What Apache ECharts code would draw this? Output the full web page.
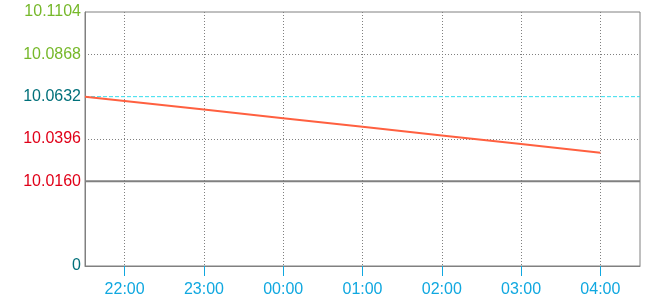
<!DOCTYPE html>
<html>
<head>
<meta charset="utf-8">
<script src="https://cdn.jsdelivr.net/npm/echarts@6/dist/echarts.min.js"></script>
<style>html,body{margin:0;padding:0;background:#fff}#c{width:660px;height:300px}</style>
</head>
<body>
<div id="c"></div>
<script>
// Data
var times = ['21:30', '22:00', '23:00', '00:00', '01:00', '02:00', '03:00', '04:00'];
var values = [10.0632, 10.0608, 10.0560, 10.0512, 10.0464, 10.0416, 10.0368, 10.0320];
var xTickLabels = ['22:00', '23:00', '00:00', '01:00', '02:00', '03:00', '04:00'];
var yTickLabels = ['0', '', '10.0160', '10.0396', '10.0632', '10.0868', '10.1104'];
var refValue = 10.0632;   // dashed cyan reference
var baseValue = 10.0160;  // solid gray base line
var yMin = 9.9688, yMax = 10.1104, yStep = 0.0236;
var xStart = '21:30', xEnd = '04:30';

function toHours(s) {
  var p = s.split(':'); var h = +p[0] + (+p[1]) / 60;
  if (h < 12) h += 24;
  return h;
}
var xMin = toHours(xStart), xMax = toHours(xEnd);
var xTickVals = xTickLabels.map(toHours);
var seriesData = times.map(function (t, i) { return [toHours(t), values[i]]; });

var font = "'Liberation Sans', Arial, sans-serif";
var chart = echarts.init(document.getElementById('c'), null, {renderer: 'canvas'});
chart.setOption({
  animation: false,
  grid: {left: 85, right: 20, top: 12, bottom: 34, show: true, borderColor: '#808080', borderWidth: 1, backgroundColor: '#fff'},
  xAxis: {
    type: 'value', min: xMin, max: xMax,
    axisLine: {show: true, lineStyle: {color: '#808080', width: 1}},
    axisTick: {show: true, length: 10, inside: false, customValues: xTickVals, lineStyle: {color: '#10a8e0', width: 1}},
    axisLabel: {
      margin: 16, fontFamily: font, fontSize: 16, color: '#10a8e0',
      customValues: xTickVals,
      formatter: function (v) {
        var idx = -1;
        for (var i = 0; i < xTickVals.length; i++) if (Math.abs(xTickVals[i] - v) < 1e-6) idx = i;
        return idx >= 0 ? xTickLabels[idx] : '';
      }
    },
    splitLine: {show: true, lineStyle: {color: '#808080', type: [1, 2], width: 1}}
  },
  yAxis: {
    type: 'value', min: yMin, max: yMax, interval: yStep,
    axisLine: {show: true, lineStyle: {color: '#808080', width: 1}},
    axisTick: {show: false},
    axisLabel: {
      margin: 4, fontFamily: font, fontSize: 16,
      formatter: function (v) {
        var idx = Math.round((v - yMin) / yStep);
        return yTickLabels[idx] || '';
      },
      color: function (v) {
        var idx = Math.round((v - yMin) / yStep);
        if (idx === 0 || idx === 4) return '#00707a';
        if (idx > 4) return '#76b82a';
        return '#e00018';
      }
    },
    splitLine: {show: true, lineStyle: {color: ['transparent', 'transparent', 'transparent', '#808080', 'transparent', '#808080', 'transparent'], type: [1, 2], width: 1}}
  },
  series: [
    {
      type: 'line', data: [[xMin, refValue], [xMax, refValue]], symbol: 'none', silent: true,
      lineStyle: {color: '#33ddee', type: [4, 2], width: 1}, z: 2
    },
    {
      type: 'line', data: [[xMin, baseValue], [xMax, baseValue]], symbol: 'none', silent: true,
      lineStyle: {color: '#808080', type: 'solid', width: 2}, z: 2
    },
    {
      type: 'line', data: seriesData, showSymbol: false, symbol: 'none',
      lineStyle: {color: '#ff6040', width: 2}, z: 3
    }
  ]
});
</script>
</body>
</html>
